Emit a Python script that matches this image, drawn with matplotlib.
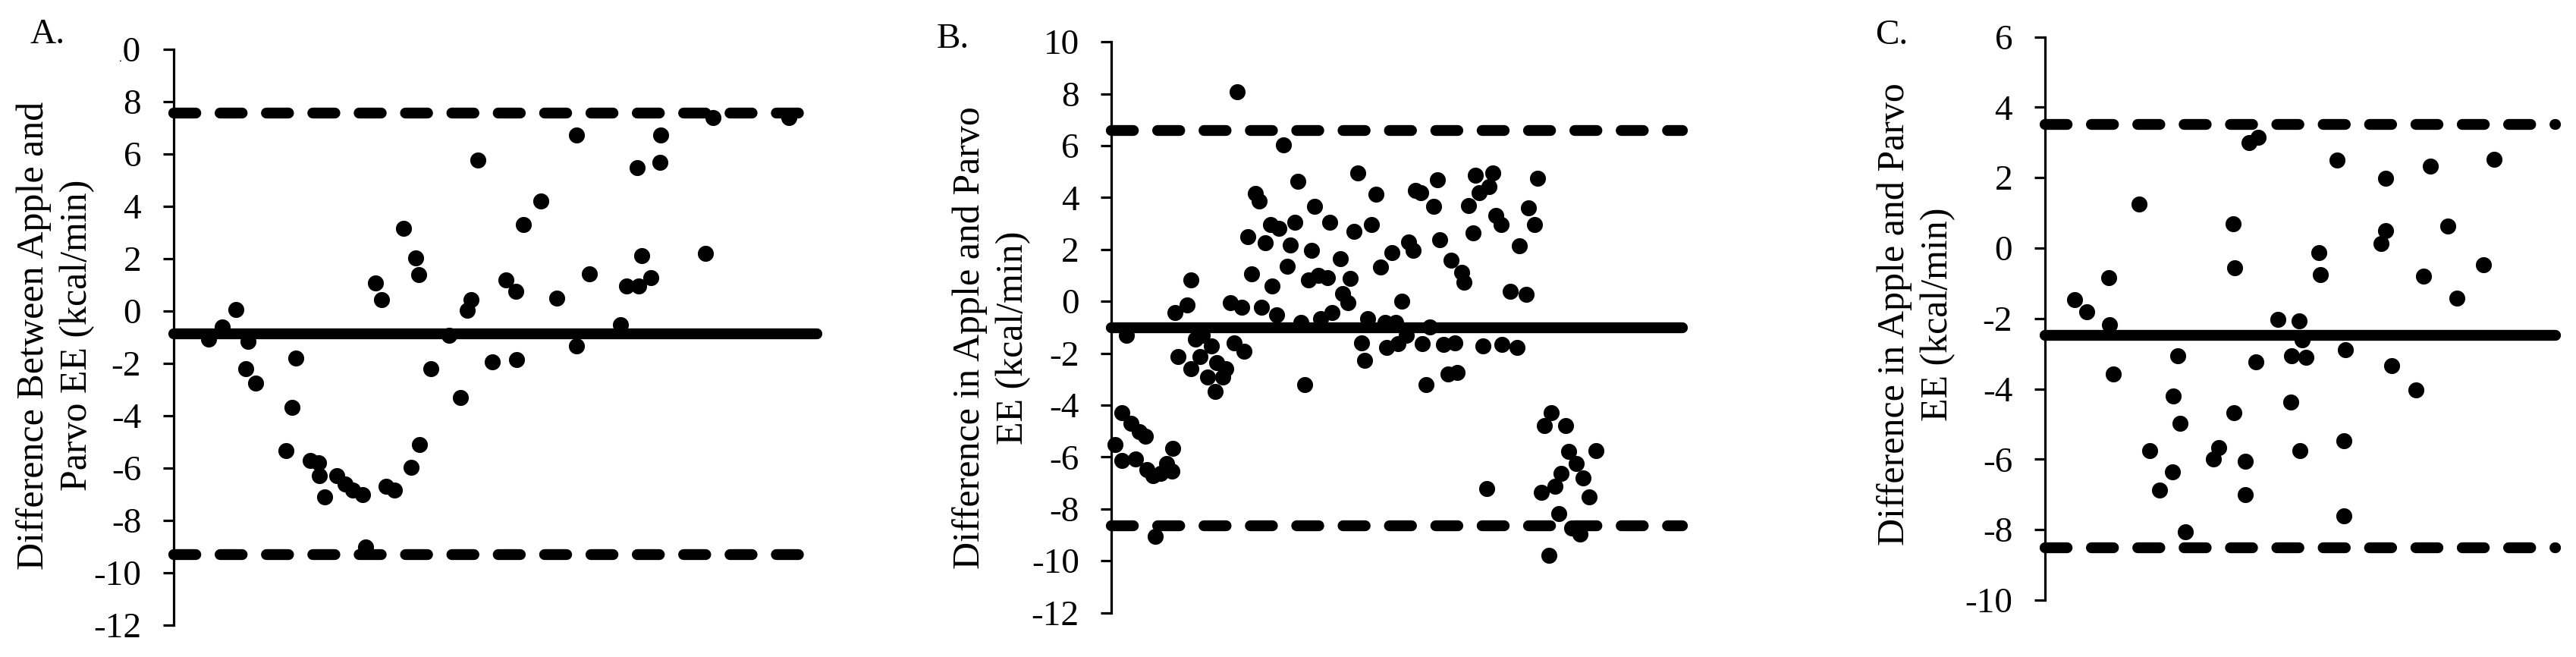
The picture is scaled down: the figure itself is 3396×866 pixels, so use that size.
import matplotlib
matplotlib.use("Agg")
import matplotlib.pyplot as plt
from matplotlib.patches import Rectangle

plt.rcParams['font.family'] = ['Liberation Serif', 'DejaVu Serif']
plt.rcParams['axes.unicode_minus'] = False
plt.rcParams['lines.scale_dashes'] = False

# ---------------- data ----------------
A_x = [5.5, 7.6, 9.7, 11.6, 11.3, 12.8, 17.5, 18.4, 19.0, 21.3, 22.6, 22.7, 23.5, 25.4,
       26.7, 27.9, 29.4, 29.9, 31.4, 32.4, 33.1, 34.4, 35.8, 36.9, 37.7, 38.1, 38.2, 40.0,
       42.8, 44.6, 45.7, 46.3, 47.3, 49.6, 51.7, 53.2, 53.3, 54.4, 57.1, 59.6, 62.6, 62.6,
       64.6, 69.5, 70.4, 72.1, 72.3, 72.8, 74.2, 75.6, 75.7, 82.7, 83.9, 95.6]
A_y = [-1.08, -0.60, 0.07, -1.16, -2.20, -2.76, -5.32, -3.68, -1.80, -5.72, -5.80, -6.28,
       -7.09, -6.28, -6.60, -6.85, -7.00, -9.00, 1.08, 0.44, -6.69, -6.85, 3.16, -5.96,
       2.04, 1.40, -5.10, -2.20, -0.92, -3.29, 0.04, 0.44, 5.76, -1.93, 1.19, 0.76, -1.85,
       3.32, 4.20, 0.49, 6.72, -1.34, 1.43, -0.52, 0.95, 5.48, 0.95, 2.12, 1.29, 5.68,
       6.72, 2.20, 7.40, 7.40]
A_bias, A_upper, A_lower = -0.87, 7.57, -9.30

B_x = [2.7, 0.6, 1.8, 3.5, 4.9, 6.0, 1.8, 4.2, 6.2, 7.3, 8.6, 9.7, 10.8, 10.6, 7.7, 13.9,
       13.3, 11.1, 11.7, 13.9, 14.8,
       22.1, 30.1, 32.7, 25.2, 25.9, 43.2, 46.3, 35.6, 27.9, 29.4, 32.1, 38.2, 42.5, 45.6,
       23.9, 27.0, 31.4, 35.1, 40.1, 30.8, 24.6, 34.5, 36.3, 37.8, 41.8, 28.2, 20.8, 22.9,
       26.3, 40.5, 41.4, 29.0, 33.2, 36.7, 38.7, 44.9, 48.0, 49.8, 50.9, 47.1, 49.1, 52.0,
       52.9, 53.3, 54.2, 57.1, 56.4, 57.5, 59.5, 61.3, 61.8, 62.6, 63.7, 64.4, 66.2, 66.8,
       63.3, 67.3, 68.2, 71.4, 69.9, 55.8,
       15.9, 17.5, 15.5, 16.8, 18.4, 20.1, 19.5, 18.2, 21.5, 23.2, 33.9, 43.8, 44.3, 48.2,
       50.2, 51.6, 54.4, 58.2, 60.2, 55.1, 58.9, 60.6, 65.1, 68.4, 71.0, 65.7,
       74.7, 73.0, 74.1, 72.6, 77.0, 75.8, 79.5, 80.1, 84.8, 81.4, 78.8, 82.6, 77.7, 75.3,
       83.7, 78.4, 80.6, 82.1, 76.6]
B_y = [-1.31, -5.51, -4.30, -4.70, -5.02, -5.19, -6.15, -6.07, -6.48, -6.72, -6.64, -6.24,
       -5.67, -6.56, -9.06, 0.82, -0.15, -0.42, -2.12, -2.60, -1.47,
       8.09, 6.04, 4.62, 4.15, 3.86, 4.96, 4.14, 3.67, 2.97, 2.81, 3.05, 3.05, 2.70, 2.97,
       2.49, 2.25, 2.16, 1.95, 1.63, 1.34, 1.07, 0.82, 0.99, 0.92, 0.87, 0.58, -0.06, -0.23,
       -0.23, 0.31, -0.06, -0.53, -0.82, -0.66, -0.42, -0.66, -0.82, -0.82, 0.00, 1.32,
       1.87, 2.29, 1.97, 4.26, 4.18, 4.67, 3.65, 2.36, 1.57, 1.11, 0.74, 3.70, 4.86, 4.18,
       4.43, 4.94, 2.65, 3.30, 2.97, 2.13, 0.39, -0.99,
       -1.31, -1.71, -2.12, -2.92, -2.36, -2.60, -2.92, -3.49, -1.60, -1.92, -3.21, -1.60,
       -2.28, -1.79, -1.63, -1.31, -1.63, -1.66, -1.60, -3.21, -2.79, -2.73, -1.71, -1.66,
       -1.79, -7.21,
       4.75, 3.59, 2.97, 0.26, -4.30, -4.78, -4.78, -5.80, -5.75, -6.24, -6.64, -6.80,
       -7.12, -7.37, -7.53, -8.17, -8.74, -8.98, -9.79]
B_bias, B_upper, B_lower = -1.02, 6.58, -8.65

C_x = [5.9, 8.2, 12.5, 12.7, 13.5, 18.5, 20.6, 22.5, 25.0, 25.2, 26.0, 26.5, 27.6, 36.9,
       37.2, 40.0, 41.8, 41.3, 37.1, 34.1, 33.0, 39.2, 39.2, 45.7, 49.8, 50.4, 48.3, 51.1,
       48.2, 49.9, 53.7, 54.0, 57.2, 58.9, 58.6, 58.6, 66.8, 66.8, 65.8, 67.9, 72.7, 74.1,
       75.5, 78.9, 80.7, 85.9, 88.0]
C_y = [-1.46, -1.82, -0.83, -2.18, -3.58, 1.24, -5.75, -6.88, -6.35, -4.20, -3.07, -4.98,
       -8.07, 0.68, -0.57, 3.00, 3.14, -3.23, -4.68, -5.67, -5.99, -6.05, -7.00, -2.02,
       -2.06, -2.60, -3.05, -3.10, -4.38, -5.75, -0.12, -0.75, 2.49, -2.89, -5.48, -7.60,
       1.99, 0.50, 0.12, -3.33, -4.02, -0.79, 2.32, 0.62, -1.43, -0.48, 2.52]
C_bias, C_upper, C_lower = -2.47, 3.52, -8.51

A_ticks = list(range(-12, 11, 2))
B_ticks = list(range(-12, 11, 2))
C_ticks = list(range(-10, 7, 2))

A_label = "Difference Between Apple and\nParvo EE (kcal/min)"
B_label = "Difference in Apple and Parvo\nEE (kcal/min)"
C_label = "Difference in Apple and Parvo\nEE (kcal/min)"

# ---------------- figure ----------------
W, H = 3396, 866
fig = plt.figure(figsize=(W / 100, H / 100), dpi=100)

FS = 34
FS_LABEL = 36
LW_REF = 10.3      # points
DASH = (21.0, 23.0)


def px(x0, y0, x1, y1):
    """convert pixel box (left, top, right, bottom) to figure fraction rect"""
    return [x0 / W, 1 - y1 / H, (x1 - x0) / W, (y1 - y0) / H]


def panel(rect, xs, ys, bias, upper, lower, ylim, ticks):
    ax = fig.add_axes(rect)
    ax.set_xlim(0, 100)
    ax.set_ylim(*ylim)
    for s in ('top', 'right', 'bottom'):
        ax.spines[s].set_visible(False)
    ax.spines['left'].set_linewidth(2.3)
    ax.set_xticks([])
    ax.set_yticks(ticks)
    ax.set_yticklabels([str(t) for t in ticks])
    ax.tick_params(axis='y', direction='out', length=10, width=2.3,
                   pad=20.5, labelsize=FS)
    ax.plot([0, 100], [bias, bias], color='black', lw=LW_REF,
            solid_capstyle='round', clip_on=False, zorder=2)
    for v in (upper, lower):
        ax.plot([0, 100], [v, v], color='black', lw=LW_REF,
                linestyle=(0, DASH), dash_capstyle='round',
                clip_on=False, zorder=2)
    ax.plot(xs, ys, 'o', color='black', ms=15.2, mec='black', mew=0,
            clip_on=False, zorder=3)
    return ax


axA = panel(px(228.5, 65.2, 1077, 824), A_x, A_y, A_bias, A_upper, A_lower,
            (-12, 10), A_ticks)
axB = panel(px(1465, 55.2, 2218, 807.5), B_x, B_y, B_bias, B_upper, B_lower,
            (-12, 10), B_ticks)
axC = panel(px(2695.5, 48.6, 3369, 791), C_x, C_y, C_bias, C_upper, C_lower,
            (-10, 6), C_ticks)

# y labels (two-line, rotated)
for (cx, cy, txt) in [(73.5, 442, A_label), (1307, 445, B_label), (2526, 414, C_label)]:
    fig.text(cx / W, 1 - cy / H, txt, rotation=90, ha='center', va='center',
             multialignment='center', fontsize=FS_LABEL, linespacing=1.3)

# panel letters
for (lx, ly, txt) in [(40, 57, "A."), (1235, 63, "B."), (2472, 58, "C.")]:
    fig.text(lx / W, 1 - ly / H, txt, ha='left', va='baseline', fontsize=FS)

# the top tick label of panel A is partly cropped in the original figure
fig.patches.append(Rectangle((136 / W, 1 - 90 / H), 22 / W, 56 / H,
                             transform=fig.transFigure, facecolor='white',
                             edgecolor='none', zorder=10))

fig.savefig("out.png", dpi=100, facecolor='white')
